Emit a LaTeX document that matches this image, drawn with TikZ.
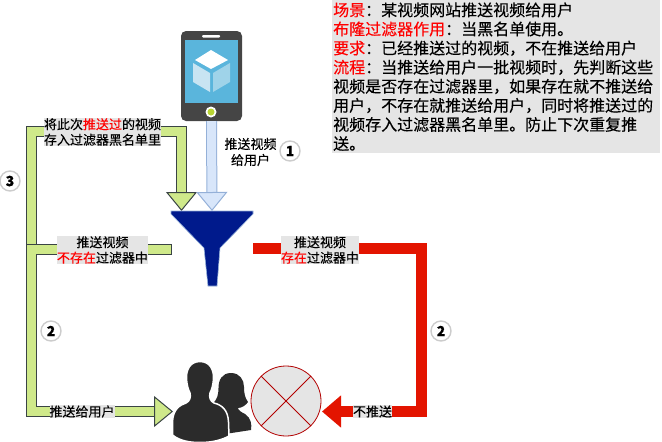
\documentclass[tikz,border=0pt]{standalone}
\usepackage{fontspec}
\setmainfont{Noto Sans CJK SC}[FakeBold=0.25]
\usetikzlibrary{arrows.meta,positioning}
\definecolor{panelgray}{HTML}{E5E5E5}
\definecolor{flowgreen}{HTML}{CFE98A}
\definecolor{flowedge}{HTML}{3A4444}
\definecolor{flowblue}{HTML}{D8E6FA}
\definecolor{blueedge}{HTML}{94B0D8}
\definecolor{flowred}{HTML}{E31400}
\definecolor{funnelblue}{HTML}{001A8C}
\definecolor{peopledark}{HTML}{2B2B2B}
\definecolor{screenblue}{HTML}{5AB5DC}
\definecolor{phonedark}{HTML}{454545}
\definecolor{phonelight}{HTML}{606060}
\definecolor{homegreen}{HTML}{B8D433}
\definecolor{cubeleft}{HTML}{C8E4F2}
\definecolor{cuberight}{HTML}{9FD3E9}
\tikzset{
  flowlabel/.style={fill=panelgray,inner xsep=0pt,inner ysep=.5pt,align=center,font=\fontsize{13}{15.5}\selectfont},
  plainlabel/.style={inner sep=0pt,align=center,font=\fontsize{13}{16}\selectfont},
  infobox/.style={fill=panelgray,anchor=north west,inner xsep=1pt,inner ysep=0pt,text width=326pt,minimum height=153pt,align=left,font=\fontsize{16}{19.1}\selectfont},
  badge/.style={circle,draw=black!20,line width=1.4pt,fill=white,minimum size=20pt,inner sep=0pt,font=\fontsize{14}{14}\selectfont\bfseries},
  greenflow/.style={line width=1pt,draw=flowedge,double=flowgreen,double distance=9pt,
    -{Triangle[width=31pt,length=19pt,line width=1pt,fill=flowgreen,color=flowedge]}},
  blueflow/.style={line width=1pt,draw=blueedge,double=flowblue,double distance=9pt,
    -{Triangle[width=31pt,length=19pt,line width=1pt,fill=flowblue,color=blueedge]}},
  redflow/.style={line width=11pt,draw=flowred,-{Triangle[width=31pt,length=19pt]}},
  greenend/.style={draw=flowedge,line width=1pt,fill=flowgreen,minimum width=6pt,minimum height=10pt,inner sep=0pt},
  people/.style={fill=peopledark,draw=white,line width=1.5pt}
}
\newcommand{\hl}[1]{\textcolor{red}{#1}}
\begin{document}
\begin{tikzpicture}[x=1pt,y=-1pt]
\useasboundingbox (0,0) rectangle (662,442);
\node[infobox] (scene) at (332,0) {\hl{场景}：某视频网站推送视频给用户\\
\hl{布隆过滤器作用}：当黑名单使用。\\
\hl{要求}：已经推送过的视频，不在推送给用户\\
\hl{流程}：当推送给用户一批视频时，先判断这些\\
视频是否存在过滤器里，如果存在就不推送给\\
用户，不存在就推送给用户，同时将推送过的\\
视频存入过滤器黑名单里。防止下次重复推\\
送。};
\node[fill=phonedark,rounded corners=5pt,minimum width=61pt,minimum height=90pt,inner sep=0pt,
  path picture={\fill[phonelight] (227,31) -- (243,31) -- (243,40) -- (225,40) -- cycle;
    \fill[phonelight] (180,103) -- (198,103) -- (190.5,122) -- (180,122) -- cycle;}] (phone) at (211.5,76) {};
\node[fill=screenblue,minimum width=53pt,minimum height=63pt,inner sep=0pt] (screen) at (211.5,71.5) {};
\fill[white,rounded corners=1pt] (202,35) rectangle (220,37.5);
\node[circle,fill=white,minimum size=11pt,inner sep=0pt] (home) at (211,112) {};
\node[circle,fill=homegreen,minimum size=7pt,inner sep=0pt] (homedot) at (home) {};
\fill[white] (211,50) -- (228,60) -- (211,69) -- (195,60) -- cycle;
\fill[cubeleft] (193,63) -- (210,73) -- (210,92) -- (193,82) -- cycle;
\fill[cuberight] (213,73) -- (230,63) -- (230,82) -- (213,92) -- cycle;
\coordinate (funnelTop) at (212,211);
\coordinate (funnelTip) at (181.5,211);
\coordinate (loopStart) at (31.8,249);
\coordinate (loopCorner) at (31.8,131);
\coordinate (dropCorner) at (181.5,131);
\coordinate (pushCorner) at (31.8,411.5);
\coordinate (pushTip) at (173,411.5);
\coordinate (hitStart) at (253,248.5);
\coordinate (hitCorner) at (421.5,248.5);
\coordinate (backCorner) at (421.5,411.5);
\coordinate (crossTip) at (322,411.5);
\draw[greenflow] (loopStart) -- (loopCorner) -- (dropCorner) -- (funnelTip);
\draw[blueflow] (phone.south) -- (funnelTop);
\node[greenend] (missEnd) at (168,249) {};
\draw[greenflow] (missEnd.center) -- (loopStart) -- (pushCorner) -- (pushTip);
\draw[fill=funnelblue,draw=blueedge,line width=.6pt] (171,211) -- (253,211) -- (253,214) -- (220,248) -- (217,286) -- (208,286) -- (204,248) -- (171,214) -- cycle;
\draw[redflow] (hitStart) -- (hitCorner) -- (backCorner) -- (crossTip);
\fill[peopledark] (231,373) .. controls (222,373) and (218.5,380) .. (218.5,388) .. controls (218.5,395) and (217,399) .. (213.5,403) -- (220,415) -- (225,434) -- (251,430) .. controls (252,424) and (251,418) .. (245,414) .. controls (241,412) and (238,410) .. (238,408) .. controls (242,408) and (246,405) .. (248,402) .. controls (245,398) and (244,393) .. (244,387) .. controls (244,380) and (240,373) .. (231,373) -- cycle;
\draw[people] (200,361.5) .. controls (190,361.5) and (186,370) .. (186.5,379) .. controls (187,385) and (188,389) .. (190,393) .. controls (191,397) and (190,401) .. (186,403) .. controls (180,405) and (173,409) .. (172.5,422) -- (172.5,435) .. controls (180,441) and (190,442.5) .. (200,442.5) .. controls (212,442.5) and (222,440) .. (229,436) -- (228.5,422) .. controls (228,410) and (222,405) .. (214,403) .. controls (210,401) and (209,397) .. (210,393) .. controls (212,389) and (213,385) .. (213.5,379) .. controls (214,370) and (210,361.5) .. (200,361.5) -- cycle;
\node[circle,draw=red!70!black,fill=panelgray,line width=.8pt,minimum size=70pt,inner sep=0pt] (cross) at (286,401) {};
\draw[red!70!black,line width=.8pt] (cross.45) -- (cross.225) (cross.135) -- (cross.315);
\node[flowlabel] (storeLabel) at (102.5,132) {将此次\hl{推送过}的视频\\存入过滤器黑名单里};
\node[flowlabel] (missLabel) at (102.5,250) {推送视频\\\hl{不存在}过滤器中};
\node[flowlabel] (hitLabel) at (320,250) {推送视频\\\hl{存在}过滤器中};
\node[flowlabel] (pushLabel) at (82,411.5) {推送给用户};
\node[flowlabel] (skipLabel) at (372.5,411.5) {不推送};
\node[plainlabel] (sendLabel) at (250.5,152) {推送视频\\给用户};
\node[badge] (stepOne) at (290,151) {1};
\node[badge] (stepThree) at (10,181) {3};
\node[badge] (stepMiss) at (51,331) {2};
\node[badge] (stepHit) at (441,331) {2};
\end{tikzpicture}
\end{document}
